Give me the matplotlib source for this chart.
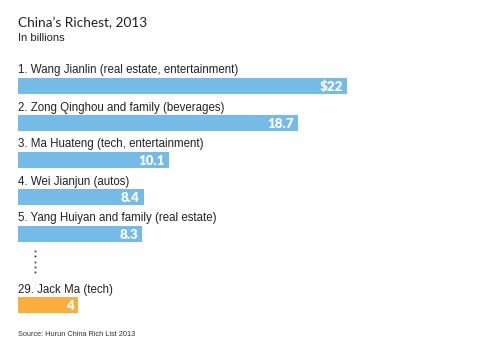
import matplotlib.pyplot as plt

# data
names = ["1. Wang Jianlin (real estate, entertainment)",
         "2. Zong Qinghou and family (beverages)",
         "3. Ma Huateng (tech, entertainment)",
         "4. Wei Jianjun (autos)",
         "5. Yang Huiyan and family (real estate)",
         "29. Jack Ma (tech)"]
worth = [22, 18.7, 10.1, 8.4, 8.3, 4]
value_labels = ["$22", "18.7", "10.1", "8.4", "8.3", "4"]
rows = [0, 1, 2, 3, 4, 5.93]   # row slots, gap for the skipped ranks
bar_colors = ["#74bbe8"] * 5 + ["#fbad3d"]

W, H = 500, 354
fig = plt.figure(figsize=(W / 100, H / 100), dpi=100)

# axes mapped so 0 billions sits at x=18px and 22 at x=347px
left_px, right_px = 18, 347
ax = fig.add_axes([left_px / W, 0, (right_px - left_px) / W, 1])
ax.set_xlim(0, 22)
top0, step = 86, 37.0
ax.set_ylim((H - top0) / step, -top0 / step)
ax.axis("off")

ax.barh(rows, worth, height=16 / step, color=bar_colors, left=0)

for r, n, v, lab in zip(rows, names, worth, value_labels):
    ax.text(0, r - 15.5 / step, n, fontsize=8.3, family="Liberation Sans",
            color="#222222", va="center", ha="left")
    ax.text(v - 0.28, r + 0.8 / step, lab, fontsize=9.6, family="Lato",
            weight="heavy", color="white", va="center", ha="right")

# vertical ellipsis between rank 5 and 29
dots_y = [(251 - top0) / step + i * (5.3 / step) for i in range(5)]
ax.plot([1.17] * 5, dots_y, ls="none", marker="s", ms=1.3, mew=0,
        color="#444444", clip_on=False)

fig.text(18 / W, 1 - 23 / H, "China\u2019s Richest, 2013", fontsize=9.8, family="Lato",
         color="#222222", va="center", ha="left")
fig.text(18 / W, 1 - 38 / H, "In billions", fontsize=8, family="Liberation Sans",
         color="#222222", va="center", ha="left")
fig.text(18 / W, 1 - 334 / H, "Source: Hurun China Rich List 2013", fontsize=5.3,
         family="Liberation Sans", color="#333333", va="center", ha="left")

fig.savefig("out.png", dpi=100)
